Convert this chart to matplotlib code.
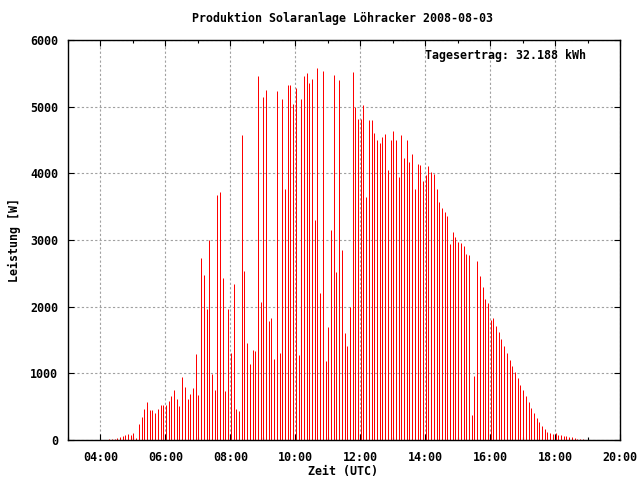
import matplotlib
matplotlib.use("Agg")
import matplotlib.pyplot as plt
from matplotlib.ticker import FixedLocator, FuncFormatter

# 5-minute samples starting 04:16 UTC
start_minute = 4 * 60 + 16
step_minutes = 5
power_w = [
    15, 15, 15, 30, 45, 60, 75, 90, 75, 105,
    30, 240, 345, 465, 570, 450, 450, 405, 465, 525,
    525, 525, 585, 660, 750, 615, 510, 945, 795, 615,
    690, 780, 1290, 675, 2730, 2475, 1965, 3000, 990, 750,
    3675, 3720, 2430, 735, 1965, 1305, 2340, 465, 435, 4575,
    2535, 1455, 1140, 1350, 1335, 5460, 2070, 5145, 5250, 1785,
    1830, 1215, 5235, 1305, 5115, 3765, 5325, 5325, 5040, 5280,
    1275, 5115, 5460, 5505, 5355, 5415, 3300, 5580, 2205, 5535,
    1185, 1695, 3150, 5475, 2520, 5400, 2850, 1605, 1410, 1995,
    5520, 4995, 4815, 4815, 5025, 3645, 4800, 4800, 4605, 4500,
    4455, 4545, 4590, 4050, 4500, 4635, 4500, 3945, 4575, 4230,
    4500, 4170, 4290, 3765, 4140, 4125, 3885, 3975, 4110, 4020,
    3990, 3765, 3570, 3480, 3420, 3360, 2940, 3120, 3045, 2970,
    2955, 2910, 2790, 2775, 375, 960, 2685, 2460, 2295, 2115,
    2055, 1800, 1830, 1710, 1620, 1515, 1410, 1305, 1200, 1110,
    1020, 930, 825, 750, 660, 570, 480, 405, 330, 270,
    210, 165, 120, 105, 90, 100, 75, 75, 60, 60,
    45, 45, 30, 15, 15, 15,
]
times_h = [(start_minute + step_minutes * i) / 60.0 for i in range(len(power_w))]

x_major = [4, 6, 8, 10, 12, 14, 16, 18, 20]
x_minor = [3, 5, 7, 9, 11, 13, 15, 17, 19]
y_ticks = [0, 1000, 2000, 3000, 4000, 5000, 6000]

title = "Produktion Solaranlage Löhracker 2008-08-03"
xlabel = "Zeit (UTC)"
ylabel = "Leistung [W]"
note = "Tagesertrag: 32.188 kWh"

FONT = "DejaVu Sans Mono"
FS = 8.4

fig = plt.figure(figsize=(6.4, 4.8), dpi=100)
ax = fig.add_axes([68 / 640, 40 / 480, 552 / 640, 400 / 480])
ax.set_axisbelow(True)

ax.vlines(times_h, 0, power_w, colors="#ff0000", linewidth=0.72, antialiased=True)

ax.set_xlim(3, 20)
ax.set_ylim(0, 6000)
ax.xaxis.set_major_locator(FixedLocator(x_major))
ax.xaxis.set_minor_locator(FixedLocator(x_minor))
ax.xaxis.set_major_formatter(FuncFormatter(lambda v, p: "%02d:00" % int(round(v))))
ax.yaxis.set_major_locator(FixedLocator(y_ticks))

ax.grid(True, which="major", color="#a0a0a0", linestyle=(0, (2, 2)), linewidth=0.8)

ax.tick_params(which="both", direction="in", top=True, right=True, color="black",
               labelsize=FS, width=0.8)
ax.tick_params(which="major", length=4.0, pad=8)
ax.tick_params(which="minor", length=2.0)
for lab in ax.get_xticklabels() + ax.get_yticklabels():
    lab.set_fontfamily(FONT)
    lab.set_fontweight("bold")
ax.tick_params(axis="y", pad=7)

for s in ax.spines.values():
    s.set_linewidth(1.0)
    s.set_color("black")

fig.text(343 / 640, 1 - 18 / 480, title, ha="center", va="center",
         fontsize=FS, family=FONT, fontweight="bold")
fig.text(343 / 640, 1 - 472 / 480, xlabel, ha="center", va="center",
         fontsize=FS, family=FONT, fontweight="bold")
fig.text(14 / 640, 0.5, ylabel, ha="center", va="center", rotation=90,
         fontsize=FS, family=FONT, fontweight="bold")
fig.text(586 / 640, 1 - 56 / 480, note, ha="right", va="center",
         fontsize=FS, family=FONT, fontweight="bold")

fig.savefig("out.png", dpi=100)
